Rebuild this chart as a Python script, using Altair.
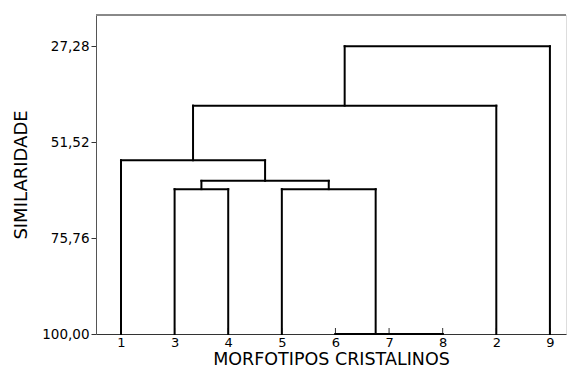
import json
import altair as alt
import pandas as pd

# Leaf order along the x axis
leaf_labels = ["1", "3", "4", "5", "6", "7", "8", "2", "9"]
# Merge steps: cluster a + cluster b at a similarity level
merge_a = ["7", "6", "3", "5", "m2", "1", "m5", "m6"]
merge_b = ["8", "m0", "4", "m1", "m3", "m4", "2", "9"]
merge_sim = [100.0, 100.0, 63.4, 63.4, 61.3, 56.1, 42.3, 27.28]
y_ticks = [27.28, 51.52, 75.76, 100.0]

# Build dendrogram segments from the linkage
pos = {lab: i + 1 for i, lab in enumerate(leaf_labels)}
hgt = {lab: 100.0 for lab in leaf_labels}
rows = []
for k, (a, b, s) in enumerate(zip(merge_a, merge_b, merge_sim)):
    xa, xb = pos[a], pos[b]
    rows.append({"x": xa, "x2": xa, "y": hgt[a], "y2": s})
    rows.append({"x": xb, "x2": xb, "y": hgt[b], "y2": s})
    rows.append({"x": xa, "x2": xb, "y": s, "y2": s})
    name = f"m{k}"
    pos[name] = (xa + xb) / 2
    hgt[name] = s
seg = pd.DataFrame(rows)
leaves = pd.DataFrame({"x": list(range(1, len(leaf_labels) + 1))})

FONT = "DejaVu Sans"
W, H = 470, 319
xscale = alt.Scale(domain=[0.534, 9.30], nice=False, zero=False)
yscale = alt.Scale(domain=[19.4, 100], reverse=True, nice=False, zero=False)

x_label_expr = json.dumps(leaf_labels) + "[datum.value - 1]"

lines = alt.Chart(seg).mark_rule(color="black", strokeWidth=2, strokeCap="square").encode(
    x=alt.X("x:Q", scale=xscale,
            axis=alt.Axis(values=list(range(1, 10)), labelExpr=x_label_expr, ticks=False,
                          grid=False, title="MORFOTIPOS CRISTALINOS", labelFontSize=13,
                          labelPadding=2, labelColor="black", labelFont=FONT,
                          titleFont=FONT, titleFontSize=17.5, titleFontWeight="normal",
                          titleColor="black", titleY=25.5, titleBaseline="middle",
                          domainColor="#333", domainWidth=1)),
    x2="x2:Q",
    y=alt.Y("y:Q", scale=yscale,
            axis=alt.Axis(values=y_ticks,
                          labelExpr="replace(format(datum.value, '.2f'), '.', ',')",
                          grid=False, tickSize=5, tickColor="#333", labelPadding=2,
                          labelFontSize=13.5, labelColor="black", labelFont=FONT,
                          title="SIMILARIDADE", titleFont=FONT, titleFontSize=18,
                          titleFontWeight="normal", titleColor="black",
                          titleX=-75, titleY=H / 2, titleAngle=270, titleAlign="center",
                          titleBaseline="middle", domainColor="#555", domainWidth=1)),
    y2="y2:Q",
)

ticks = alt.Chart(leaves).mark_rule(color="#333", strokeWidth=1).encode(
    x=alt.X("x:Q", scale=xscale),
    y=alt.value(H - 6),
    y2=alt.value(H),
)

top_line = alt.Chart(leaves).mark_rule(color="#888", strokeWidth=1).encode(
    x=alt.value(0), x2=alt.value(W), y=alt.value(0)
)

chart = alt.layer(ticks, lines, top_line).properties(
    width=W, height=H,
    autosize=alt.AutoSizeParams(type="none"),
    padding={"left": 88, "top": 7, "right": 1, "bottom": 35},
).configure_view(stroke=None).configure(background="white")

chart.save("out.html", embed_options={"renderer": "svg", "actions": False})
